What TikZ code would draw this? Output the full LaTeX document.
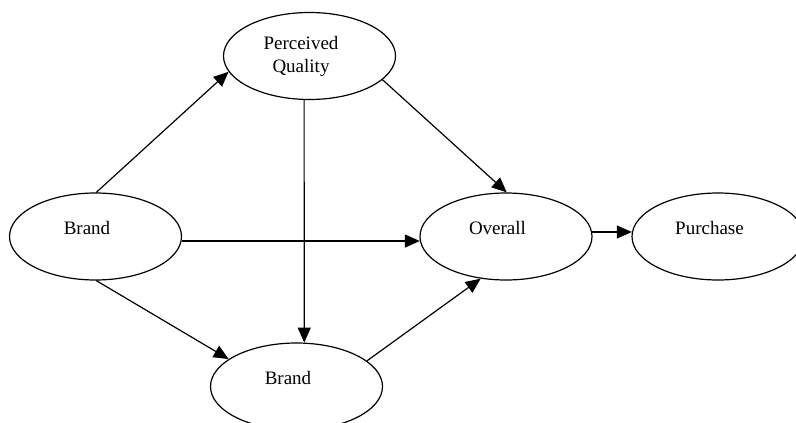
\documentclass[tikz,border=0pt]{standalone}
\usepackage{fontspec}
\setmainfont{Liberation Serif}
\usetikzlibrary{shapes.geometric, arrows.meta}

\begin{document}
\begin{tikzpicture}[x=1pt, y=-1pt,
  construct/.style={draw, ellipse, line width=1.2pt, minimum width=172pt, minimum height=87pt, inner sep=0pt},
  caption/.style={font=\fontsize{19}{23}\selectfont, align=center, xshift=-8.5pt, yshift=8.5pt},
  link/.style={-{Triangle[length=15pt, width=13pt]}, line width=1.2pt}]
  \useasboundingbox (0,0) rectangle (796,423);
  \clip (0,0) rectangle (796,423);

  % constructs
  \node[construct, label={[caption]center:Brand}] (brand) at (95.5,236.5) {};
  \node[construct, label={[caption, yshift=-8.5pt]center:Perceived\\Quality}] (quality) at (309.5,56) {};
  \node[construct, label={[caption]center:Overall}] (overall) at (506,236.5) {};
  \node[construct, label={[caption]center:Purchase}] (purchase) at (718,236.5) {};
  \node[construct, label={[caption]center:Brand}] (brandlow) at (296.5,386.5) {};

  % paths
  \draw[link] (brand.89) -- (quality.191.7);
  \draw[link] (brand.-3.7) -- (overall.183.7);
  \draw[link] (brand.-89) -- (brandlow.158.9);
  \draw[link] (quality.-18) -- (overall.89);
  \draw[link] (quality.263.5) -- (brandlow.80.2);
  \draw[link] (brandlow.20.3) -- (overall.239.7);
  \draw[link] (overall.3) -- (purchase.177);
\end{tikzpicture}
\end{document}
